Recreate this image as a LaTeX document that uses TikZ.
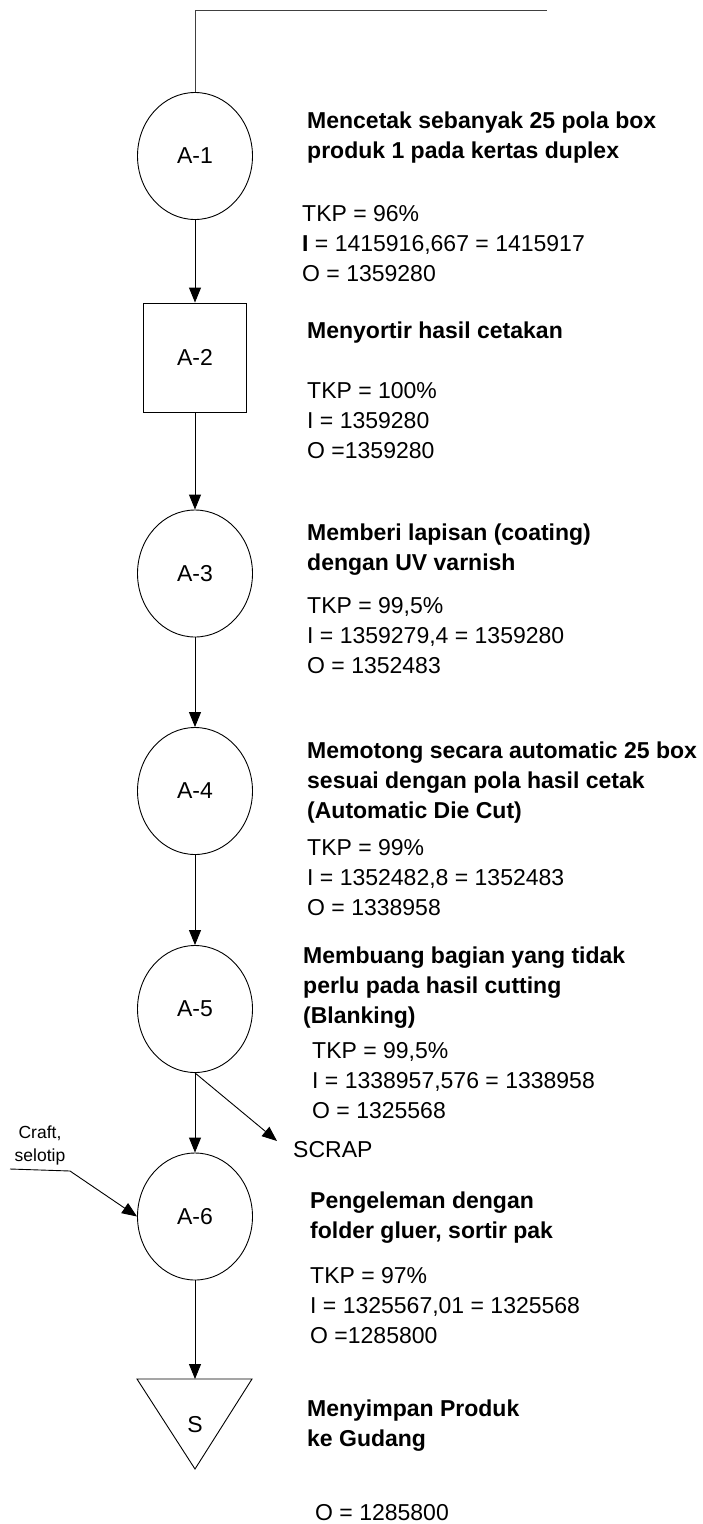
\documentclass[tikz,border=0pt]{standalone}
\usepackage{fontspec}
\setmainfont{Liberation Sans}
\usetikzlibrary{arrows.meta,shapes.geometric}
\begin{document}
\begin{tikzpicture}[x=1pt,y=-1pt,
  proc/.style={draw, ellipse, line width=0.9pt, minimum width=115pt, minimum height=127pt, inner sep=0pt, font=\fontsize{23}{28}\selectfont},
  inspect/.style={draw, rectangle, line width=0.9pt, minimum width=103pt, minimum height=109pt, inner sep=0pt, font=\fontsize{23}{28}\selectfont},
  flow/.style={draw, line width=0.9pt, -{Triangle[length=15pt,width=12pt]}},
  feed/.style={draw, line width=0.9pt, black!75},
  desc/.style={anchor=base west, inner sep=0pt, align=left, font=\fontsize{23}{30}\selectfont\bfseries},
  data/.style={anchor=base west, inner sep=0pt, align=left, font=\fontsize{23}{30}\selectfont},
  small/.style={anchor=base, inner sep=0pt, align=center, font=\fontsize{17.5}{23}\selectfont}]
\useasboundingbox (0,0) rectangle (702,1524);

% process symbols
\node[proc]    (a1) at (195,156)   {A-1};
\node[inspect] (a2) at (195,357.5) {A-2};
\node[proc]    (a3) at (195,573.5) {A-3};
\node[proc]    (a4) at (195,791)   {A-4};
\node[proc]    (a5) at (195,1009)  {A-5};
\node[proc]    (a6) at (195,1216.5){A-6};

% storage triangle
\coordinate (stop) at (195,1379);
\draw[line width=0.9pt] (137,1379) -- (252,1379) -- (195,1469) -- cycle;
\node[font=\fontsize{23}{28}\selectfont, inner sep=0pt] (s) at (195,1425) {S};

% incoming material line
\coordinate (feedtop) at (195,10);
\coordinate (feedend) at (547,10);
\draw[feed] (a1.north) -- (feedtop) -- (feedend);

% main flow
\draw[flow] (a1) -- (a2);
\draw[flow] (a2) -- (a3);
\draw[flow] (a3) -- (a4);
\draw[flow] (a4) -- (a5);
\draw[flow] (a5) -- (a6);
\draw[flow] (a6) -- (stop);

% scrap output
\coordinate (scrapend) at (277,1141);
\draw[flow] (a5.south) -- (scrapend);
\node[data] (scrap) at (293,1157) {SCRAP};

% auxiliary material input (multi-line nodes sit on their last baseline)
\node[small] (craft) at (40,1161) {Craft,\\selotip};
\coordinate (craftfoot) at (10,1169);
\coordinate (craftbend) at (70,1171);
\draw[flow] (craftfoot) -- (craftbend) -- (a6.west);

% descriptions (positions give the baseline of the last line)
\node[desc] (d1) at (307,158) {Mencetak sebanyak 25 pola box\\produk 1 pada kertas duplex};
\node[data] (v1) at (302,281) {TKP = 96\%\\\textbf{I} = 1415916,667 = 1415917\\O = 1359280};

\node[desc] (d2) at (307,338) {Menyortir hasil cetakan};
\node[data] (v2) at (307,458) {TKP = 100\%\\I = 1359280\\O =1359280};

\node[desc] (d3) at (307,570) {Memberi lapisan (coating)\\dengan UV varnish};
\node[data] (v3) at (307,673) {TKP = 99,5\%\\I = 1359279,4 = 1359280\\O = 1352483};

\node[desc] (d4) at (307,818) {Memotong secara automatic 25 box\\sesuai dengan pola hasil cetak\\(Automatic Die Cut)};
\node[data] (v4) at (307,915) {TKP = 99\%\\I = 1352482,8 = 1352483\\O = 1338958};

\node[desc] (d5) at (303,1023) {Membuang bagian yang tidak\\perlu pada hasil cutting\\(Blanking)};
\node[data] (v5) at (312,1118) {TKP = 99,5\%\\I = 1338957,576 = 1338958\\O = 1325568};

\node[desc] (d6) at (310,1238) {Pengeleman dengan\\folder gluer, sortir pak};
\node[data] (v6) at (310,1343) {TKP = 97\%\\I = 1325567,01 = 1325568\\O =1285800};

\node[desc] (d7) at (307,1446) {Menyimpan Produk\\ke Gudang};
\node[data] (v7) at (315,1520) {O = 1285800};
\end{tikzpicture}
\end{document}
